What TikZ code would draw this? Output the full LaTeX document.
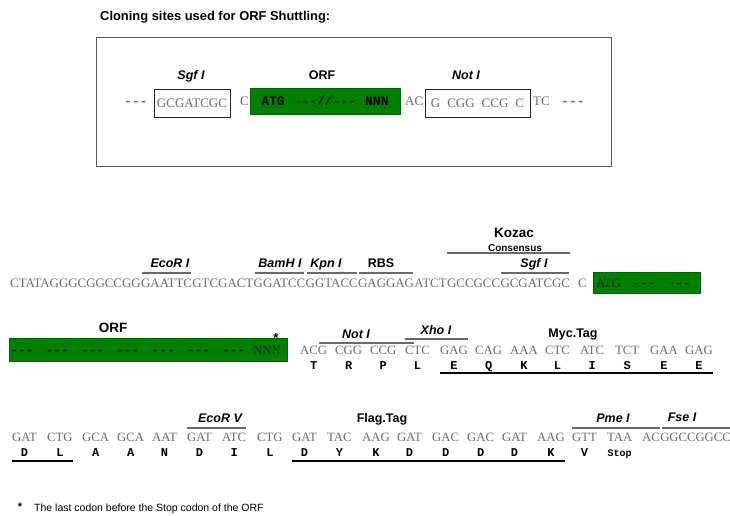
\documentclass[tikz,border=0pt]{standalone}
\usepackage{fontspec}
\setmainfont{Liberation Serif}
\newfontfamily\sansf{Liberation Sans}
\newfontfamily\monof{Liberation Mono}
\usetikzlibrary{calc}
\definecolor{seqgray}{RGB}{108,108,108}
\definecolor{orfgreen}{RGB}{0,128,0}
\definecolor{olgray}{RGB}{105,105,105}
\definecolor{framegray}{RGB}{90,90,90}
\newcommand{\dsh}{-{}-{}-}
\begin{document}
\begin{tikzpicture}[x=1pt,y=-1pt,
  seq/.style={font=\fontsize{12.7}{14}\selectfont, text=seqgray, inner sep=0pt, anchor=base west},
  seqA/.style={seq, font=\fontsize{12.9}{14}\selectfont},
  seqdark/.style={seq, text=black!85},
  dashes/.style={font=\monof\bfseries\fontsize{13}{14}\selectfont, inner sep=0pt, anchor=base west},
  aa/.style={font=\monof\bfseries\fontsize{12}{14}\selectfont, inner sep=0pt, anchor=base},
  site/.style={font=\sansf\bfseries\itshape\fontsize{12.5}{14}\selectfont, inner sep=0pt, anchor=base},
  head/.style={font=\sansf\bfseries\fontsize{12.5}{14}\selectfont, inner sep=0pt, anchor=base},
  ovl/.style={draw=olgray, line width=1.1pt},
  ul/.style={draw=black, line width=1.2pt},
  gbox/.style={fill=orfgreen, draw=orfgreen!80!black, line width=0.4pt, inner sep=0pt},
  sitebox/.style={draw=black!85, line width=0.9pt, inner sep=0pt, minimum height=28pt, text=seqgray, font=\fontsize{13}{14}\selectfont}
]
\useasboundingbox (0,0) rectangle (730,516);

% title and frame
\node[head, anchor=base west, font=\sansf\bfseries\fontsize{12.9}{14}\selectfont] (title) at (100,21) {Cloning sites used for ORF Shuttling:};
\node[draw=framegray, line width=1pt, minimum width=515pt, minimum height=129pt, anchor=north west, inner sep=0pt] (frame) at (96,37) {};

% top row
\node[dashes, text=seqgray] (td1) at (124,106) {\dsh};
\node[sitebox, minimum width=76pt] (sgfbox) at (192,103) {GCGATCGC};
\node[seq, font=\fontsize{13}{14}\selectfont] (tc1) at (240,106) {C};
\node[gbox, minimum width=150pt, minimum height=26pt, font=\monof\bfseries\fontsize{13}{14}\selectfont, text=black] (orftop) at (325,101) {ATG\hspace{9pt}\dsh//\dsh\hspace{9pt}NNN};
\node[seq, font=\fontsize{13}{14}\selectfont] (tac) at (405,106) {AC};
\node[sitebox, minimum width=105pt] (notbox) at (477.5,103) {G\hspace{7pt}CGG\hspace{7pt}CCG\hspace{7pt}C};
\node[seq, font=\fontsize{13}{14}\selectfont] (ttc) at (533,106) {TC};
\node[dashes, text=seqgray] (td2) at (561,106) {\dsh};
\node[site] (lsgf1) at (191,80) {Sgf I};
\node[head] (lorf1) at (322,80) {ORF};
\node[site] (lnot1) at (466,80) {Not I};

% row 1
\node[seqA] (s1) at (10,287) {CTATAGGGCGGCCGG};
\node[seqA] (s2) at (s1.base east) {GAATTC};
\node[seqA] (s3) at (s2.base east) {GTCGACT};
\node[seqA] (s4) at (s3.base east) {GGATCC};
\node[seqA] (s5) at (s4.base east) {GGTACC};
\node[seqA] (s6) at (s5.base east) {GAGGAG};
\node[seqA] (s7) at (s6.base east) {ATCT};
\node[seqA] (s8) at (s7.base east) {GCCGCC};
\node[seqA] (s9) at (s8.base east) {GCGATCGC};
\node[seqA] (s10) at (578,287) {C};
\node[gbox, minimum width=107pt, minimum height=21pt, anchor=north west] (orf1) at (593,272) {};
\node[seqdark] (atg1) at (596,287) {ATG};
\node[dashes, text=black!85] (d1) at (632,287) {\dsh};
\node[dashes, text=black!85] (d2) at (667,287) {\dsh};

\node[site] (lecori) at (170,267) {EcoR I};
\node[site] (lbam) at (280,267) {BamH I};
\node[site] (lkpn) at (326,267) {Kpn I};
\node[head] (lrbs) at (381,267) {RBS};
\node[site] (lsgf2) at (534,267) {Sgf I};
\node[head, font=\sansf\bfseries\fontsize{13.5}{14}\selectfont] (lkoz) at (514,237) {Kozac};
\node[head, font=\sansf\bfseries\fontsize{10}{11}\selectfont] (lcons) at (515,251) {Consensus};

\draw[ovl] ($(s2.west |- 0,273)+(1,0)$) -- ($(s2.east |- 0,273)+(-1,0)$);
\draw[ovl] ($(s4.west |- 0,273)+(1,0)$) -- ($(s4.east |- 0,273)+(-1.5,0)$);
\draw[ovl] ($(s5.west |- 0,273)+(1.5,0)$) -- ($(s5.east |- 0,273)+(-1,0)$);
\draw[ovl] ($(s6.west |- 0,273)+(1,0)$) -- ($(s6.east |- 0,273)+(-1,0)$);
\draw[ovl] ($(s9.west |- 0,273)+(1,0)$) -- ($(s9.east |- 0,273)+(-1,0)$);
\draw[ovl] (s8.west |- 0,253) -- (s9.east |- 0,253);

% row 2
\node[gbox, minimum width=278pt, minimum height=23pt, anchor=north west] (orf2) at (9,338) {};
\foreach \k in {0,...,6} {
  \node[dashes, text=black!85] (od\k) at ({10+35.3*\k},354) {\dsh};
}
\node[seqdark] (nnn) at (253,354) {NNN};
\node[font=\sansf\bfseries\fontsize{13}{13}\selectfont, inner sep=0pt] (star) at (276,338) {*};
\node[head, font=\sansf\bfseries\fontsize{13.5}{14}\selectfont] (lorf2) at (113,332) {ORF};

\foreach \cod/\amin [count=\k from 0] in {ACG/T,CGG/R,CCG/P,CTC/L,GAG/E,CAG/Q,AAA/K,CTC/L,ATC/I,TCT/S,GAA/E,GAG/E} {
  \node[seq] (b\k) at ({300+35*\k},354) {\cod};
  \node[aa] (ba\k) at ($(b\k.base)+(0,15)$) {\amin};
}
\node[site] (lnot2) at (356,338) {Not I};
\node[site] (lxho) at (436,334) {Xho I};
\node[head] (lmyc) at (573,337) {Myc.Tag};
\draw[ovl] ($(b0.east |- 0,343)+(-8,0)$) -- ($(b3.west |- 0,343)+(9,0)$);
\draw[ovl] (b3.west |- 0,339) -- (b4.east |- 0,339);
\draw[ul] (b4.west |- 0,373) -- (b11.east |- 0,373);

% row 3
\foreach \cod/\amin [count=\k from 0] in {GAT/D,CTG/L,GCA/A,GCA/A,AAT/N,GAT/D,ATC/I,CTG/L,GAT/D,TAC/Y,AAG/K,GAT/D,GAC/D,GAC/D,GAT/D,AAG/K,GTT/V} {
  \node[seq] (c\k) at ({12+35*\k},441) {\cod};
  \node[aa] (ca\k) at ($(c\k.base)+(0,15)$) {\amin};
}
\node[seq] (c17) at (607,441) {TAA};
\node[aa, font=\monof\bfseries\fontsize{10}{12}\selectfont] (ca17) at ($(c17.base)+(0,15)$) {Stop};
\node[seq] (c18) at (642,441) {AC};
\node[seq] (c19) at (c18.base east) {GGCCGGCC};

\node[site] (lecorv) at (220,422) {EcoR V};
\node[head] (lflag) at (382,422) {Flag.Tag};
\node[site] (lpme) at (613,422) {Pme I};
\node[site] (lfse) at (682,421) {Fse I};
\draw[ovl] (c5.west |- 0,428) -- (c6.east |- 0,428);
\draw[ovl] (c16.west |- 0,428) -- (c18.east |- 0,428);
\draw[ovl] ($(c19.west |- 0,428)+(2,0)$) -- (c19.east |- 0,428);
\draw[ul] (c0.west |- 0,461) -- (c1.east |- 0,461);
\draw[ul] (c8.west |- 0,461) -- (c15.east |- 0,461);

% footnote
\node[font=\sansf\bfseries\fontsize{11}{11}\selectfont, inner sep=0pt] (fstar) at (20,507) {*};
\node[font=\sansf\fontsize{10.5}{12}\selectfont, inner sep=0pt, anchor=base west] (fnote) at (34,511) {The last codon before the Stop codon of the ORF};
\end{tikzpicture}
\end{document}
